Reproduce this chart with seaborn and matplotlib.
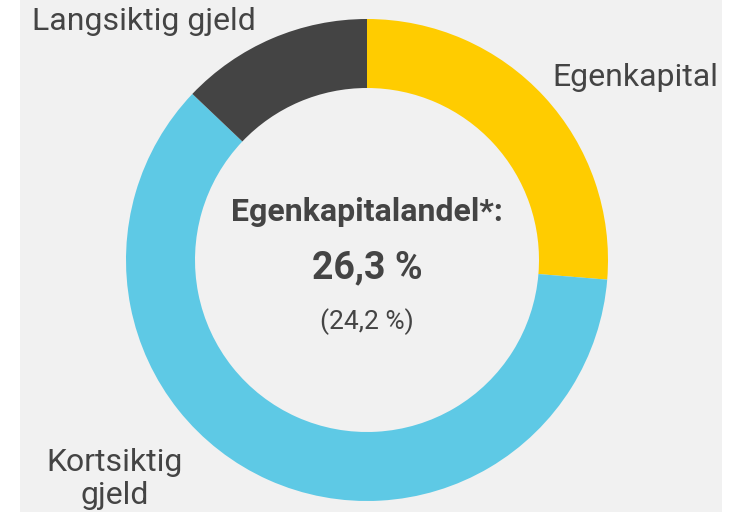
import matplotlib.pyplot as plt
import matplotlib.patches as mpatches
import seaborn as sns

labels = ['Egenkapital', 'Kortsiktig gjeld', 'Langsiktig gjeld']
shares = [26.3, 60.8, 12.9]
colors = ['#FFCC00', '#5EC9E5', '#444444']
center_title = 'Egenkapitalandel*:'
center_value = '26,3 %'
center_prev = '(24,2 %)'

sns.set_theme(style='white')
plt.rcParams['font.family'] = ['Roboto', 'DejaVu Sans']
txt = '#444444'

W, H = 744, 512
fig = plt.figure(figsize=(W / 100, H / 100), dpi=100)
fig.patch.set_facecolor('white')
fig.patches.append(mpatches.Rectangle((20 / W, 0), 702 / W, 1, transform=fig.transFigure,
                                      facecolor='#F1F1F1', edgecolor='none', zorder=-10))
ax = fig.add_axes([0, 0, 1, 1])
ax.set_facecolor('none')
ax.set_zorder(5)

cx, cy = 367, 260
R = 241
ax.pie(shares, colors=colors, startangle=90, counterclock=False, radius=R,
       center=(cx, -cy), wedgeprops=dict(width=69, edgecolor='none'))
ax.set_xlim(0, W)
ax.set_ylim(-H, 0)
ax.set_aspect('equal')
ax.axis('off')

ax.text(cx, -212, center_title, ha='center', va='center', fontsize=23, fontweight='bold', color=txt)
ax.text(cx, -268, center_value, ha='center', va='center', fontsize=27, fontweight='bold', color=txt)
ax.text(cx, -322, center_prev, ha='center', va='center', fontsize=19, color=txt)

ax.text(635, -78, labels[0], ha='center', va='center', fontsize=23, color=txt)
ax.text(144, -22, labels[2], ha='center', va='center', fontsize=23, color=txt)
ax.text(115, -479, 'Kortsiktig\ngjeld', ha='center', va='center', fontsize=23, color=txt,
        linespacing=1.17)

fig.savefig('out.png', dpi=100)
